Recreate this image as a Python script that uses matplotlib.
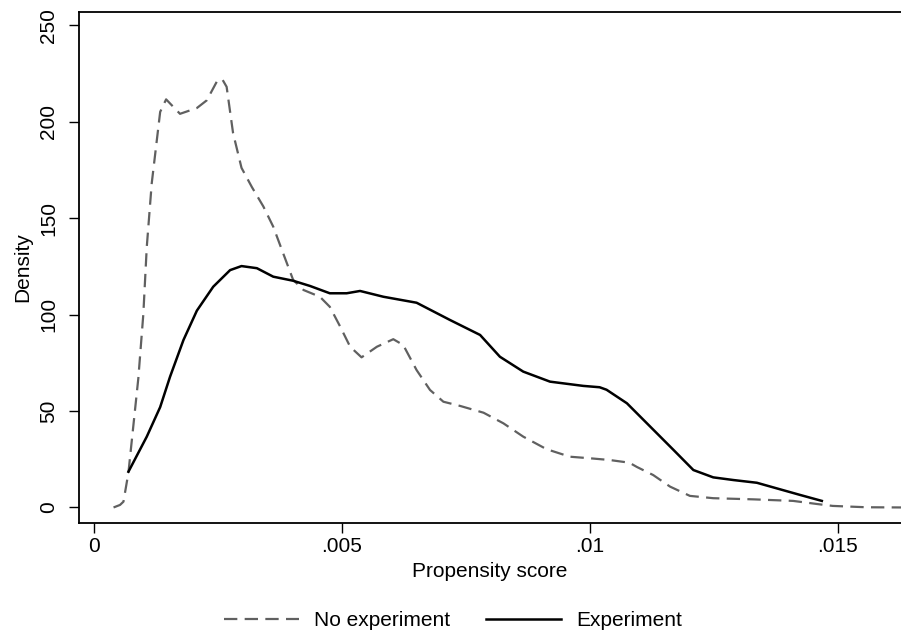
import numpy as np
import matplotlib.pyplot as plt

plt.rcParams['font.family'] = ['Liberation Sans', 'DejaVu Sans']

# density estimates
no_exp_x = [0.0004, 0.00053, 0.0006, 0.0007, 0.0009, 0.001, 0.00107, 0.00117, 0.00134,
            0.00146, 0.00174, 0.00208, 0.00228, 0.00248, 0.00259, 0.00268, 0.00281,
            0.00298, 0.00319, 0.00342, 0.00362, 0.00382, 0.00402, 0.00423, 0.00456,
            0.00476, 0.00497, 0.00517, 0.0054, 0.00571, 0.00604, 0.00624, 0.00651,
            0.00678, 0.00705, 0.00739, 0.00786, 0.00826, 0.00866, 0.00913, 0.0096,
            0.01, 0.0104, 0.0108, 0.01095, 0.01128, 0.01162, 0.01202, 0.01249, 0.0133,
            0.0141, 0.01458, 0.0149, 0.01558, 0.0163]
no_exp_y = [0, 1.3, 3, 18, 67, 100, 135, 168, 205,
            211.5, 204, 207, 211, 220.6, 222, 218, 194,
            176, 166, 156, 145.5, 131.7, 118, 112.7, 109.2,
            104, 93.7, 83.3, 77.8, 83.3, 87.2, 84.2, 71.2,
            60.9, 54.8, 52.6, 49.1, 43.6, 36.7, 30.2, 26.3,
            25.5, 24.6, 23.2, 21, 16.8, 10.8, 6, 4.8, 4.2,
            3.4, 1.8, 0.8, 0.1, 0]

exp_x = [0.0007, 0.00107, 0.00134, 0.00154, 0.00181, 0.00208, 0.00241, 0.00275, 0.00298,
         0.00329, 0.00362, 0.00402, 0.00436, 0.00476, 0.0051, 0.00537, 0.00584, 0.00651,
         0.00718, 0.00779, 0.00819, 0.00866, 0.0092, 0.00987, 0.0102, 0.01034, 0.01075,
         0.01122, 0.01169, 0.01209, 0.01249, 0.0129, 0.01337, 0.01377, 0.01424, 0.01468]
exp_y = [18.5, 36.7, 52, 67.8, 86.8, 102, 114.4, 123, 125.1,
         124, 119.6, 117.5, 114.8, 111, 111, 112.2, 109.2, 106.1,
         97.2, 89.4, 78.1, 70.4, 65.2, 63, 62.3, 61, 54,
         41.9, 29.8, 19.4, 15.6, 14.2, 12.8, 9.9, 6.5, 3.4]

x_ticks = [0, 0.005, 0.01, 0.015]
x_ticklabels = ['0', '.005', '.01', '.015']
y_ticks = [0, 50, 100, 150, 200, 250]

fs = 15

fig = plt.figure(figsize=(9.01, 6.39), dpi=100)
ax = fig.add_axes([0.0877, 0.182, 0.9123, 0.799])

ax.plot(no_exp_x, no_exp_y, color='#606060', lw=1.6, dashes=(6, 3.3),
        label='No experiment')
ax.plot(exp_x, exp_y, color='black', lw=1.8, label='Experiment')

ax.set_xlim(-0.000296, 0.016276)
ax.set_ylim(-7.9, 256.7)
ax.set_xticks(x_ticks)
ax.set_xticklabels(x_ticklabels)
ax.set_yticks(y_ticks)
ax.tick_params(axis='both', direction='out', length=7, width=1, labelsize=fs)
ax.tick_params(axis='x', pad=3)
ax.tick_params(axis='y', labelrotation=90, pad=8)
for lab in ax.get_yticklabels():
    lab.set_va('center')
ax.spines['right'].set_visible(False)
for s in ['left', 'top', 'bottom']:
    ax.spines[s].set_linewidth(1.3)

ax.set_xlabel('Propensity score', fontsize=fs)
ax.set_ylabel('Density', fontsize=fs)
ax.xaxis.set_label_coords(0.5, -0.077)
ax.yaxis.set_label_coords(-0.057, 0.5)

fig.legend(loc='center', bbox_to_anchor=(453 / 901, 1 - 621 / 639), ncol=2,
           frameon=False, fontsize=fs, handlelength=3.6, handletextpad=0.7,
           columnspacing=1.75)

fig.savefig('out.png', dpi=100)
